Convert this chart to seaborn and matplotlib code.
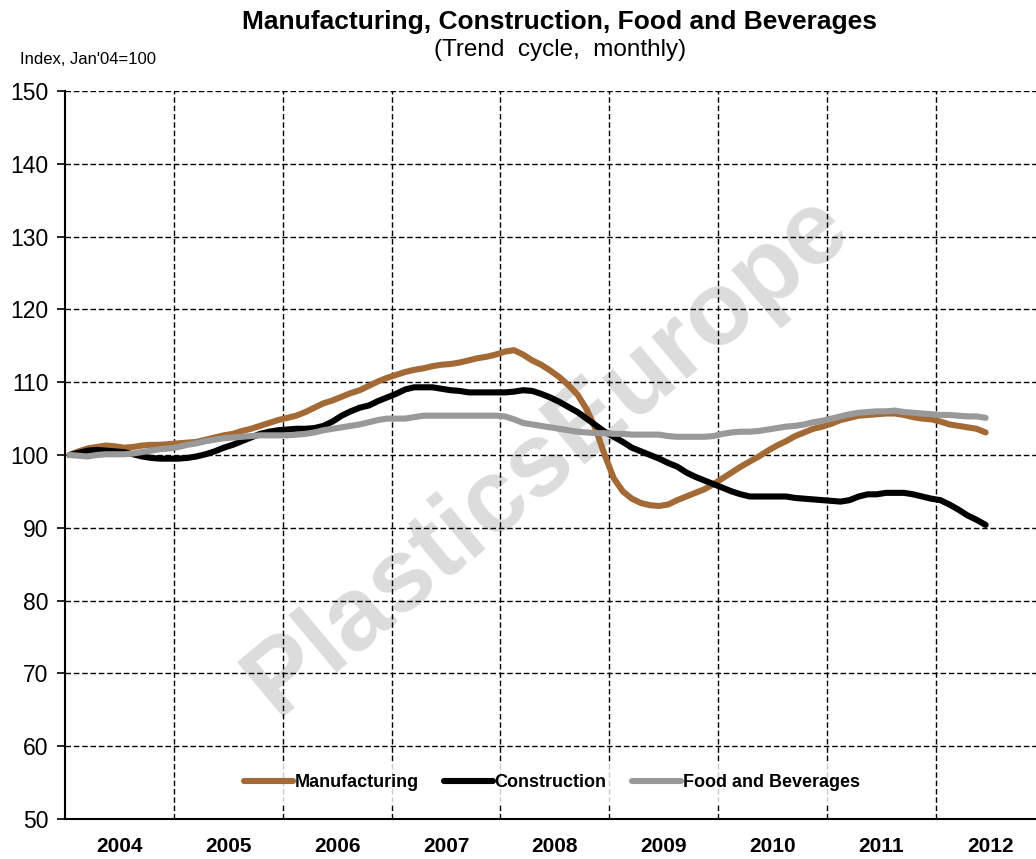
import numpy as np
import pandas as pd
import seaborn as sns
import matplotlib.pyplot as plt

# monthly index values, Jan 2004 .. Jun 2012 (Jan'04 = 100)
manufacturing = [
    100.0, 100.5, 100.9, 101.1, 101.3, 101.2, 101.0, 101.1, 101.3, 101.4, 101.4, 101.5,
    101.6, 101.7, 101.8, 102.1, 102.4, 102.7, 102.9, 103.3, 103.6, 104.0, 104.4, 104.8,
    105.1, 105.4, 105.9, 106.5, 107.1, 107.5, 108.0, 108.5, 108.9, 109.5, 110.1, 110.6,
    111.0, 111.4, 111.7, 111.9, 112.2, 112.4, 112.5, 112.7, 113.0, 113.3, 113.5, 113.8,
    114.2, 114.4, 113.8, 113.0, 112.4, 111.6, 110.7, 109.6, 108.3, 106.3, 103.6, 100.0,
    96.8, 95.0, 94.0, 93.4, 93.1, 93.0, 93.2, 93.8, 94.3, 94.8, 95.3, 96.0,
    96.8, 97.6, 98.4, 99.1, 99.8, 100.6, 101.3, 101.9, 102.6, 103.1, 103.6, 103.9,
    104.3, 104.8, 105.1, 105.4, 105.5, 105.6, 105.7, 105.7, 105.5, 105.2, 105.0, 104.9,
    104.6, 104.2, 104.0, 103.8, 103.6, 103.1,
]
construction = [
    100.0, 100.3, 100.6, 100.7, 100.6, 100.5, 100.4, 100.1, 99.8, 99.6, 99.5, 99.5,
    99.5, 99.6, 99.8, 100.1, 100.5, 101.0, 101.4, 101.9, 102.4, 102.9, 103.2, 103.4,
    103.5, 103.6, 103.6, 103.7, 104.0, 104.6, 105.4, 106.0, 106.5, 106.8, 107.4, 107.9,
    108.4, 109.0, 109.3, 109.3, 109.3, 109.1, 108.9, 108.8, 108.6, 108.6, 108.6, 108.6,
    108.6, 108.7, 108.9, 108.8, 108.4, 107.9, 107.3, 106.6, 105.9, 105.0, 104.1, 103.2,
    102.5, 101.8, 101.0, 100.5, 100.0, 99.5, 98.9, 98.4, 97.6, 97.0, 96.5, 96.0,
    95.5, 95.0, 94.6, 94.3, 94.3, 94.3, 94.3, 94.3, 94.1, 94.0, 93.9, 93.8,
    93.7, 93.6, 93.8, 94.3, 94.6, 94.6, 94.8, 94.8, 94.8, 94.6, 94.3, 94.0,
    93.8, 93.2, 92.5, 91.7, 91.1, 90.4,
]
food_beverages = [
    100.0, 99.9, 99.8, 100.0, 100.1, 100.1, 100.1, 100.2, 100.4, 100.6, 100.8, 100.9,
    101.1, 101.4, 101.6, 101.9, 102.1, 102.3, 102.4, 102.5, 102.6, 102.7, 102.7, 102.7,
    102.7, 102.8, 102.9, 103.1, 103.4, 103.6, 103.8, 104.0, 104.2, 104.5, 104.8, 105.0,
    105.0, 105.0, 105.2, 105.4, 105.4, 105.4, 105.4, 105.4, 105.4, 105.4, 105.4, 105.4,
    105.3, 104.9, 104.4, 104.2, 104.0, 103.8, 103.6, 103.4, 103.2, 103.1, 103.0, 103.0,
    102.9, 102.9, 102.8, 102.8, 102.8, 102.8, 102.6, 102.5, 102.5, 102.5, 102.5, 102.6,
    102.9, 103.1, 103.2, 103.2, 103.3, 103.5, 103.7, 103.9, 104.0, 104.2, 104.5, 104.7,
    105.0, 105.3, 105.6, 105.8, 105.9, 106.0, 106.0, 106.1, 105.9, 105.8, 105.7, 105.6,
    105.5, 105.5, 105.4, 105.3, 105.3, 105.1,
]
years = ["2004", "2005", "2006", "2007", "2008", "2009", "2010", "2011", "2012"]
series_names = ["Manufacturing", "Construction", "Food and Beverages"]
colors = ["#A36A36", "#000000", "#999999"]

n = len(manufacturing)
df = pd.DataFrame({
    "month": list(range(n)) * 3,
    "value": manufacturing + construction + food_beverages,
    "series": [s for s in series_names for _ in range(n)],
})

sns.set_theme(style="white")
plt.rcParams['font.family'] = ['Liberation Sans', 'DejaVu Sans']
plt.rcParams['text.color'] = 'black'
plt.rcParams['xtick.color'] = 'black'
plt.rcParams['ytick.color'] = 'black'

fig = plt.figure(figsize=(10.36, 8.59), dpi=100)
ax = fig.add_axes([65 / 1036, 40 / 859, 979.6 / 1036, 728 / 859])

# watermark
ax.text(0.493, 0.50, "PlasticsEurope", transform=ax.transAxes, rotation=40,
        ha="center", va="center", fontsize=75, fontweight="bold",
        color="#dcdcdc", zorder=0)

sns.lineplot(data=df, x="month", y="value", hue="series", palette=colors,
             hue_order=series_names, linewidth=4.4, ax=ax, zorder=3)

nyears = len(years)
ax.set_xlim(-0.5, 12 * nyears - 0.5)
ax.set_ylim(50, 150)
ax.set_yticks(np.arange(50, 151, 10))

bounds = [-0.5 + 12 * k for k in range(nyears)]
ax.set_xticks(bounds)
ax.set_xticklabels([])
ax.set_xticks([5.5 + 12 * k for k in range(nyears)], minor=True)
ax.set_xticklabels(years, minor=True, fontsize=15, fontweight="bold")
ax.tick_params(axis="x", which="major", direction="inout", length=12, width=1.2)
ax.tick_params(axis="x", which="minor", length=0, pad=13)
ax.tick_params(axis="y", direction="out", length=6, width=1.2,
               labelsize=16.5, pad=6, left=True)

for y in range(60, 151, 10):
    ax.axhline(y, color="black", linestyle=(0, (4, 2)), linewidth=1, zorder=1)
for x in bounds[1:]:
    ax.axvline(x, color="black", linestyle=(0, (4, 2)), linewidth=1, zorder=1)

for side in ["top", "right"]:
    ax.spines[side].set_visible(False)
for side in ["left", "bottom"]:
    ax.spines[side].set_color("black")
    ax.spines[side].set_linewidth(1.5)

ax.set_xlabel("")
ax.set_ylabel("")

leg = ax.legend(loc="center", bbox_to_anchor=(0.497, 0.05), ncol=3, frameon=True,
                fancybox=False, handlelength=2.7, handletextpad=0.1, columnspacing=1.4,
                prop={"weight": "bold", "size": 13}, borderpad=0.6)
leg.get_frame().set_facecolor("white")
leg.get_frame().set_edgecolor("white")
leg.set_zorder(5)
for line in leg.get_lines():
    line.set_linewidth(4.4)
    line.set_solid_capstyle("round")

fig.text(560 / 1036, 1 - 22 / 859, "Manufacturing, Construction, Food and Beverages",
         ha="center", va="center", fontsize=19, fontweight="bold")
fig.text(560 / 1036, 1 - 50 / 859, "(Trend  cycle,  monthly)",
         ha="center", va="center", fontsize=17.5)
fig.text(20 / 1036, 1 - 60 / 859, "Index, Jan'04=100", ha="left", va="center", fontsize=12)

fig.savefig("out.png", dpi=100)
